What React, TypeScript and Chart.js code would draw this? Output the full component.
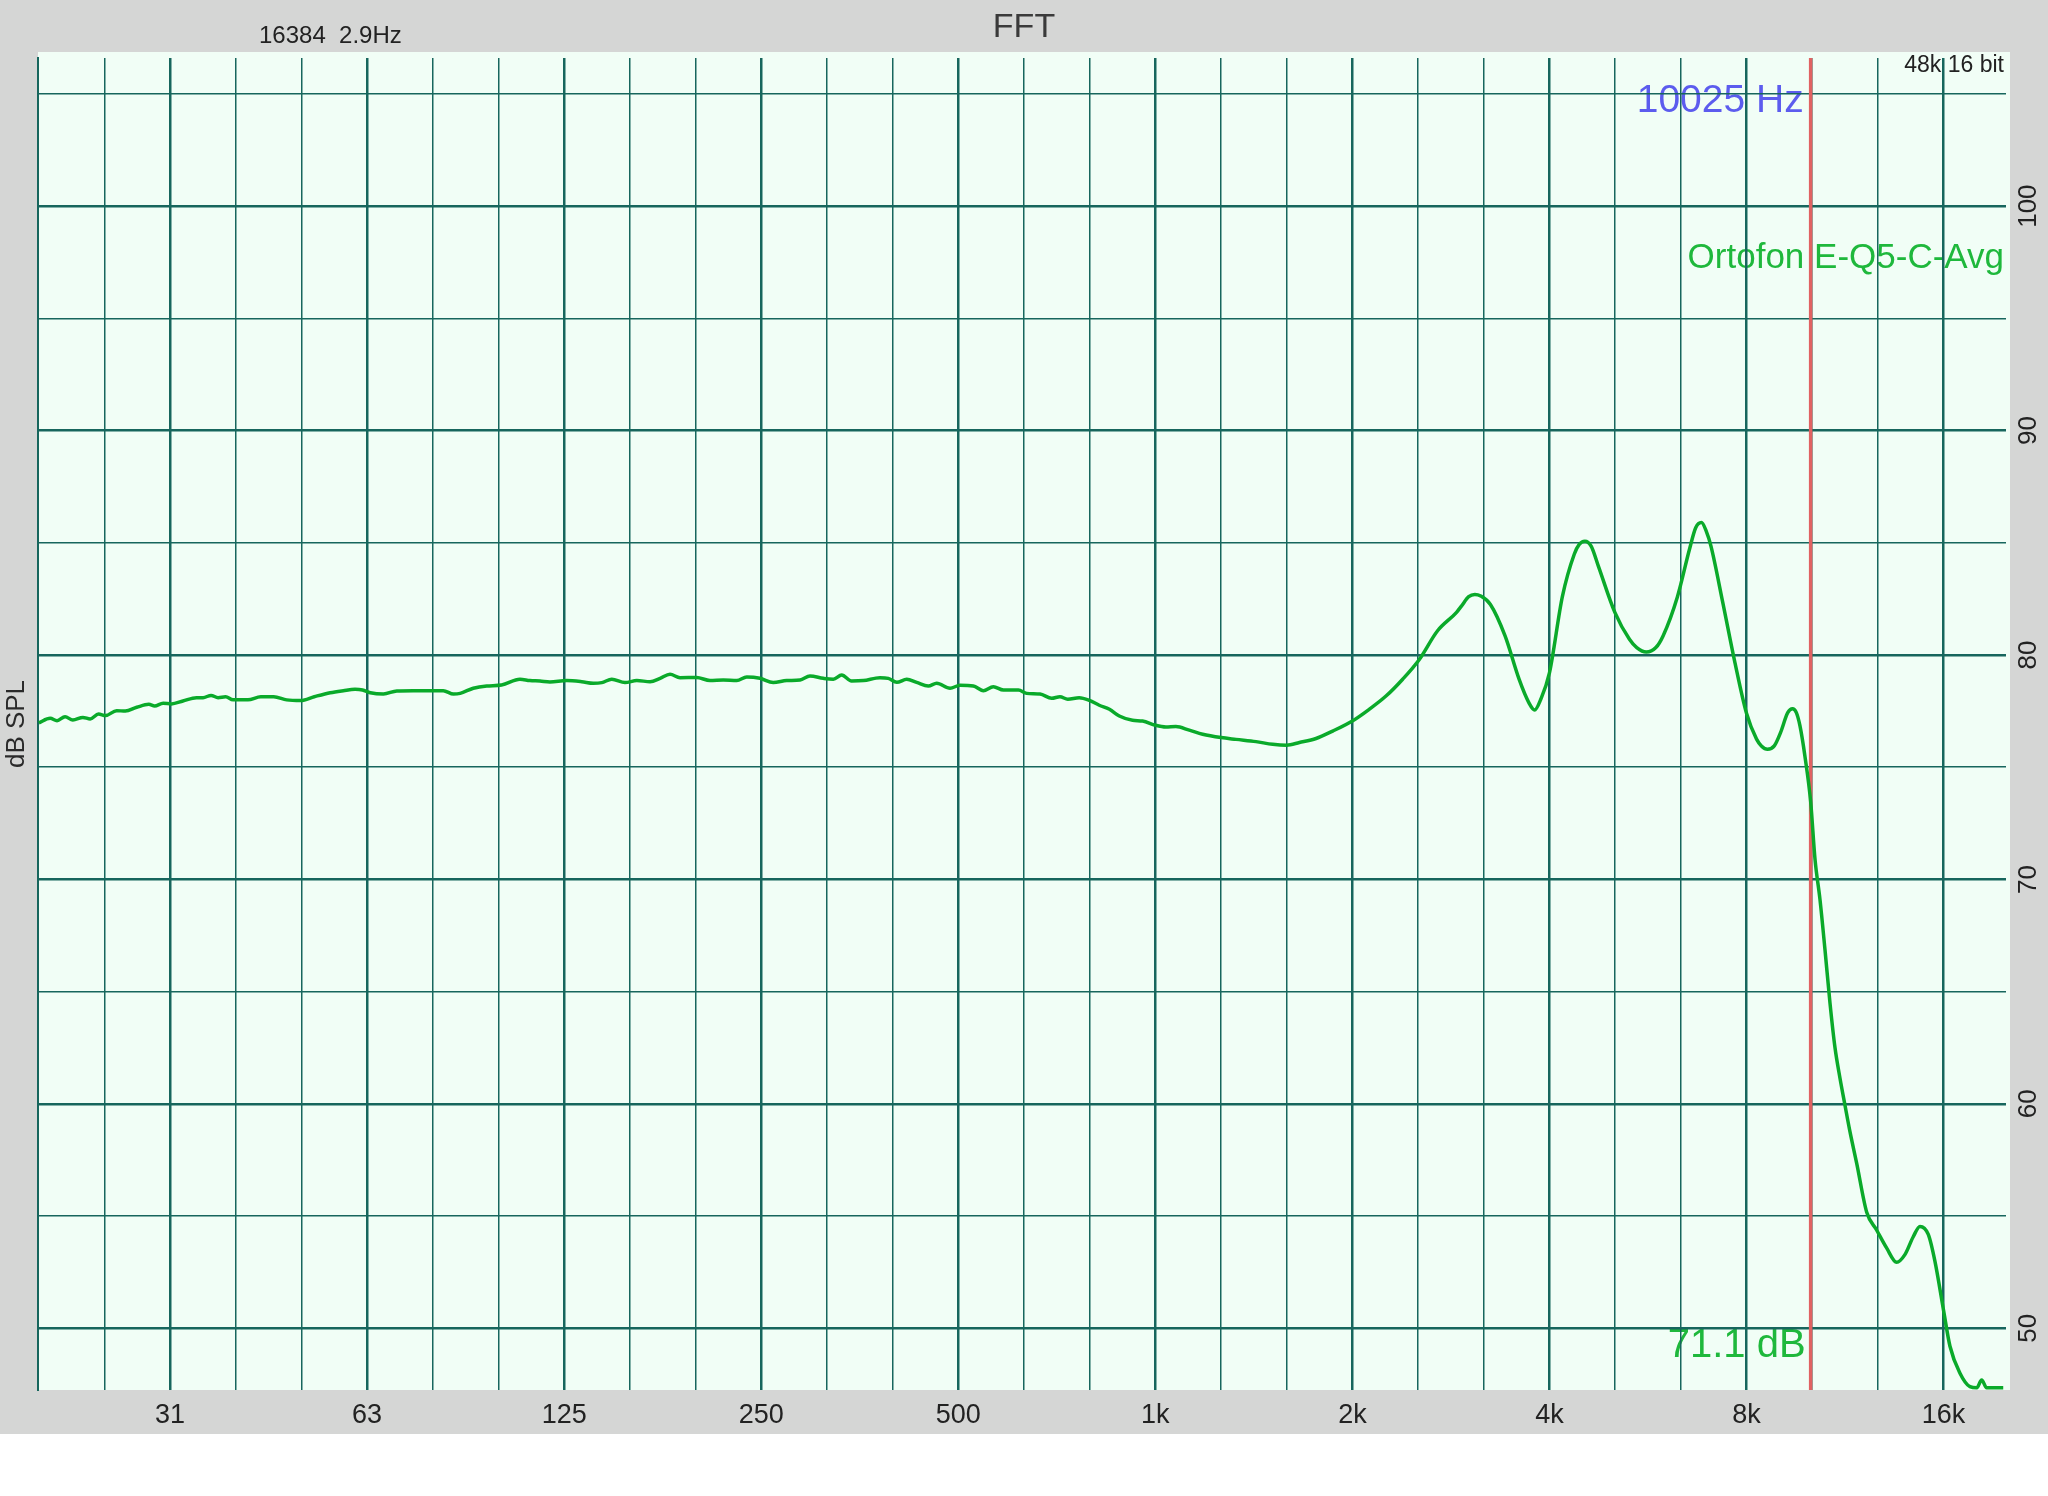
import React, { useEffect, useRef } from 'react';
import { Chart, registerables } from 'chart.js';

Chart.register(...registerables);

// ---- data ----
const freqHz = [
  19.7, 20.5, 21.0, 21.6, 22.2, 23.0, 23.6, 24.3, 24.9, 25.9, 26.7, 27.8, 29.0, 29.6, 30.5, 31.4,
  32.7, 34.3, 35.1, 36.1, 37.0, 38.0, 39.0, 41.1, 43.0, 45.0, 47.1, 49.5, 51.9, 54.9, 57.5, 59.9,
  61.5, 63.2, 66.2, 69.4, 73.5, 78.0, 81.7, 84.7, 86.7, 90.8, 95.2, 100.3, 107.0, 110.8, 114.8, 118.9,
  126.1, 133.0, 138.5, 142.7, 147.8, 154.8, 161.4, 169.1, 175.2, 181.4, 187.9, 199.2, 208.8, 218.8,
  229.4, 237.6, 248.9, 260.8, 273.4, 286.6, 296.8, 311.0, 322.2, 331.8, 343.5, 358.1, 379.6, 390.9,
  402.8, 417.1, 431.9, 450.0, 463.5, 485.7, 503.1, 527.2, 546.0, 565.6, 586.0, 617.8, 636.0, 666.6,
  694.5, 715, 735, 765, 793, 821, 851, 881, 923, 956, 1000, 1038, 1075, 1127, 1181, 1260, 1328,
  1425, 1511, 1587, 1660, 1760, 1866, 2000, 2122, 2251, 2387, 2531, 2697, 2885, 2935, 3011, 3077,
  3141, 3250, 3422, 3597, 3720, 3797, 3880, 4000, 4186, 4366, 4442, 4531, 4632, 4751, 5035, 5300,
  5438, 5623, 5816, 5965, 6275, 6545, 6691, 6827, 6943, 7060, 7364, 7681, 8000, 8288, 8430, 8614,
  8821, 9017, 9249, 9406, 9533, 9654, 9829, 10025, 10181, 10360, 10541, 10730, 10918, 11115, 11310,
  11514, 11786, 12210, 12642, 13094, 13563, 13966, 14382, 14727, 15163, 15523, 16000, 16365, 16951,
  17557, 17985, 18294, 18617, 19737,
];
const splDb = [
  76.98, 77.18, 77.07, 77.25, 77.1, 77.22, 77.15, 77.37, 77.3, 77.52, 77.5, 77.67, 77.8, 77.73, 77.85, 77.82,
  77.95, 78.1, 78.1, 78.2, 78.1, 78.14, 78.0, 78.0, 78.14, 78.14, 78.0, 77.97, 78.14, 78.32, 78.41, 78.47,
  78.44, 78.32, 78.26, 78.4, 78.41, 78.41, 78.41, 78.26, 78.29, 78.52, 78.62, 78.66, 78.92, 78.86, 78.84, 78.8,
  78.86, 78.81, 78.74, 78.77, 78.92, 78.77, 78.86, 78.81, 78.96, 79.14, 78.99, 79.0, 78.86, 78.89,
  78.86, 79.02, 78.96, 78.77, 78.86, 78.89, 79.06, 78.96, 78.92, 79.11, 78.84, 78.86, 78.99, 78.96,
  78.78, 78.92, 78.78, 78.62, 78.74, 78.52, 78.65, 78.62, 78.41, 78.59, 78.44, 78.44, 78.29, 78.26,
  78.07, 78.14, 78.03, 78.1, 77.98, 77.76, 77.58, 77.28, 77.09, 77.06, 76.87, 76.79, 76.81, 76.65, 76.47, 76.32, 76.24,
  76.14, 76.02, 75.98, 76.1, 76.28, 76.61, 77.06, 77.58, 78.17, 78.92, 79.8, 81.07, 81.9, 82.18, 82.6, 82.7,
  82.63, 82.25, 80.85, 78.9, 77.88, 77.55, 78.03, 79.2, 82.6, 84.5, 84.93, 85.07, 84.85, 83.96, 81.9, 80.7,
  80.33, 80.13, 80.33, 80.85, 82.6, 84.7, 85.67, 85.9, 85.52, 84.85, 82.3, 79.66, 77.4, 76.25, 75.95, 75.8,
  75.95, 76.54, 77.43, 77.6, 77.43, 76.85, 75.46, 73.47, 70.88, 69.1, 66.9, 64.5, 62.53, 61.14, 59.95,
  58.75, 57.36, 55.17, 54.38, 53.58, 52.94, 53.28, 54.08, 54.54, 54.18, 52.98, 50.8, 49.2, 48.0,
  47.4, 47.35, 47.7, 47.35, 47.35,
];

// third-octave grid and octave labels
const gridHz = [
  24.8, 31.25, 39.4, 49.6, 62.5, 78.7, 99.2, 125, 157.5, 198.4, 250, 315, 396.9, 500, 630, 793.7,
  1000, 1260, 1587, 2000, 2520, 3175, 4000, 5040, 6350, 8000, 10079, 12699, 16000,
];
const octaveHz = [31.25, 62.5, 125, 250, 500, 1000, 2000, 4000, 8000, 16000];
const octaveLabels = ['31', '63', '125', '250', '500', '1k', '2k', '4k', '8k', '16k'];

const cursorHz = 10025;
const cursorLabel = '10025 Hz';
const cursorLevel = '71.1 dB';
const traceName = 'Ortofon E-Q5-C-Avg';
const fftInfo = '16384  2.9Hz';
const formatInfo = '48k 16 bit';

const FONT = '"Liberation Sans", Arial, Helvetica, sans-serif';
const GRID = '#17665d';
const TRACE = '#0aaa2a';

const fftPlugin = {
  id: 'fftDecor',
  beforeDraw(chart: any) {
    const { ctx, chartArea: a, width, height } = chart;
    const xs = chart.scales.x;
    ctx.save();
    ctx.fillStyle = '#d5d6d5';
    ctx.fillRect(0, 0, width, height);
    ctx.fillStyle = '#f1fef6';
    ctx.fillRect(a.left, a.top - 6, a.right - a.left + 4, a.bottom - a.top + 6);
    const cx = xs.getPixelForValue(cursorHz);
    ctx.textBaseline = 'alphabetic';
    ctx.textAlign = 'right';
    ctx.font = `39px ${FONT}`;
    ctx.fillStyle = '#5c5cee';
    ctx.fillText(cursorLabel, cx - 7, a.top + 54);
    ctx.font = `35px ${FONT}`;
    ctx.fillStyle = '#1fb83c';
    ctx.fillText(traceName, a.right - 2, a.top + 210);
    ctx.font = `40px ${FONT}`;
    ctx.fillText(cursorLevel, cx - 5, a.bottom - 33);
    ctx.font = `23px ${FONT}`;
    ctx.fillStyle = '#222';
    ctx.fillText(formatInfo, a.right - 2, a.top + 14);
    ctx.textAlign = 'left';
    ctx.font = `24px ${FONT}`;
    ctx.fillText(fftInfo, 259, 43);
    ctx.restore();
  },
  beforeDatasetsDraw(chart: any) {
    const { ctx, chartArea: a } = chart;
    const cx = chart.scales.x.getPixelForValue(cursorHz);
    ctx.save();
    ctx.strokeStyle = '#e06262';
    ctx.lineWidth = 3.5;
    ctx.beginPath();
    ctx.moveTo(cx, a.top);
    ctx.lineTo(cx, a.bottom);
    ctx.stroke();
    ctx.restore();
  },
};

export default function App() {
  const ref = useRef<HTMLCanvasElement | null>(null);

  useEffect(() => {
    if (!ref.current) return;
    Chart.defaults.font.family = FONT;
    const chart = new Chart(ref.current, {
      type: 'line',
      data: {
        datasets: [
          {
            label: traceName,
            data: freqHz.map((f, i) => ({ x: f, y: splDb[i] })),
            borderColor: TRACE,
            borderWidth: 3.5,
            pointRadius: 0,
            cubicInterpolationMode: 'monotone',
            xAxisID: 'x',
            yAxisID: 'y',
          },
        ],
      },
      options: {
        animation: false,
        responsive: false,
        devicePixelRatio: 1,
        layout: { padding: 0 },
        plugins: {
          legend: { display: false },
          tooltip: { enabled: false },
          title: {
            display: true,
            text: 'FFT',
            color: '#3a3a3a',
            font: { family: FONT, size: 34, weight: 'normal' },
            padding: { top: 7, bottom: 10.2 },
          },
        },
        scales: {
          x: {
            type: 'logarithmic',
            position: 'bottom',
            min: 19.64,
            max: 19930,
            afterBuildTicks: (scale: any) => {
              scale.ticks = gridHz.map((v) => ({ value: v }));
            },
            afterFit: (scale: any) => {
              scale.height = 44;
            },
            border: { display: false },
            grid: {
              color: GRID,
              drawTicks: false,
              lineWidth: (c: any) => (octaveHz.includes(c.tick?.value) ? 2.5 : 1.5),
            },
            ticks: {
              autoSkip: false,
              maxRotation: 0,
              minRotation: 0,
              padding: 9,
              color: '#222',
              font: { size: 27 },
              callback: (_v: any, i: number, ticks: any[]) => {
                const k = octaveHz.indexOf(ticks[i].value);
                return k >= 0 ? octaveLabels[k] : '';
              },
            },
          },
          y: {
            type: 'linear',
            position: 'right',
            min: 47.25,
            max: 106.6,
            afterFit: (scale: any) => {
              scale.width = 42;
            },
            border: { display: false },
            grid: {
              color: GRID,
              drawTicks: false,
              lineWidth: (c: any) => (c.tick && c.tick.value % 10 === 0 ? 2.5 : 1.5),
            },
            ticks: {
              stepSize: 5,
              includeBounds: false,
              autoSkip: false,
              minRotation: 90,
              maxRotation: 90,
              crossAlign: 'center',
              padding: 1,
              color: '#222',
              font: { size: 26 },
              callback: (v: any) => (Number(v) % 10 === 0 ? String(v) : ''),
            },
          },
          yL: {
            type: 'linear',
            position: 'left',
            min: 47.25,
            max: 106.6,
            afterFit: (scale: any) => {
              scale.width = 38;
            },
            border: { display: true, color: GRID, width: 2 },
            grid: { display: false, drawTicks: false },
            ticks: { display: false },
            title: {
              display: true,
              text: 'dB SPL',
              color: '#2a2a2a',
              font: { size: 26 },
              padding: { top: 1.5, bottom: 0 },
            },
          },
        },
      },
      plugins: [fftPlugin],
    } as any);
    return () => chart.destroy();
  }, []);

  return (
    <div style={{ position: 'absolute', left: 0, top: 0, width: 2048, height: 1434 }}>
      <canvas ref={ref} width={2048} height={1434} style={{ display: 'block', width: 2048, height: 1434 }} />
    </div>
  );
}
